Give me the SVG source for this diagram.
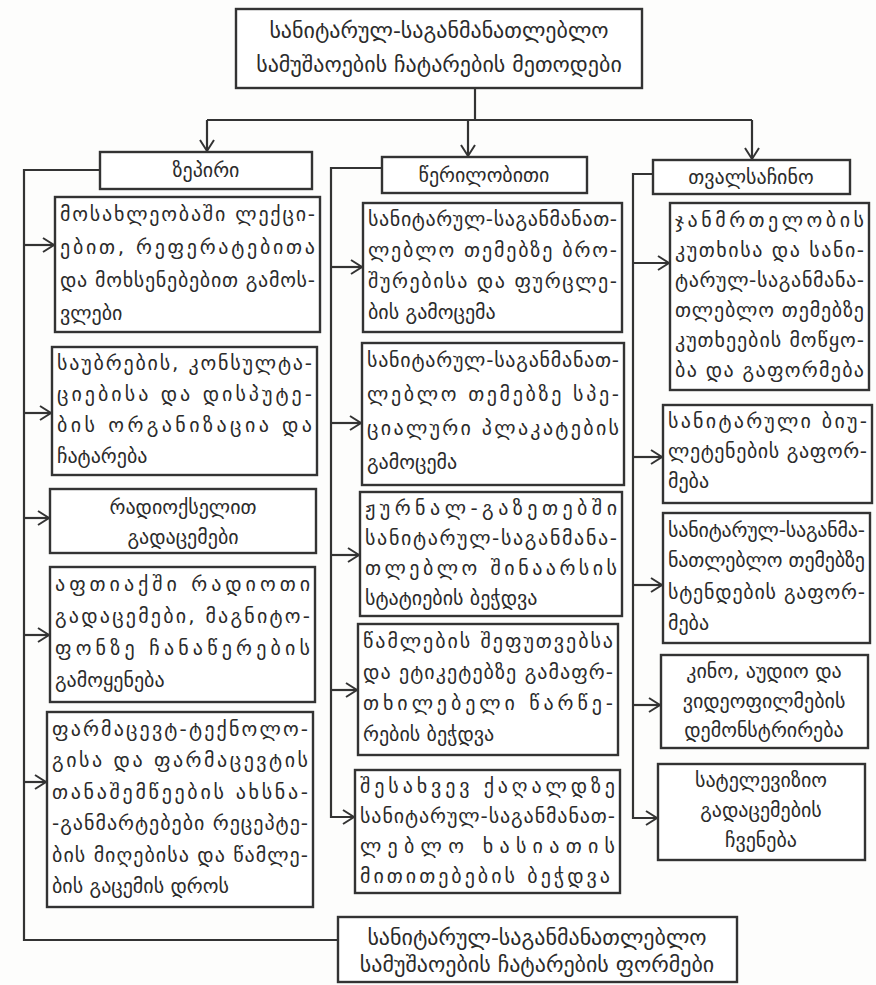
<svg xmlns="http://www.w3.org/2000/svg" width="876" height="985" viewBox="0 0 876 985">
  <defs>
    <style>
      .box { fill: #ffffff; stroke: #333; stroke-width: 2.4; }
      .wire { fill: none; stroke: #333; stroke-width: 2.2; }
      .t { font-family: 'DejaVu Sans', 'Noto Sans', sans-serif; font-size: 20px; fill: #2b2b2b; }
      .big { font-size: 22px; }
      .c { text-anchor: middle; }
    </style>
    <marker id="arr" markerUnits="userSpaceOnUse" markerWidth="14" markerHeight="16" refX="12" refY="8" orient="auto">
      <path d="M1,1 L12,8 L1,15" fill="none" stroke="#333" stroke-width="2"/>
    </marker>
  </defs>
  <rect width="876" height="985" fill="#fdfdfc"/>

  <!-- connectors -->
  <g id="connectors">
    <path class="wire" d="M475,88 V120"/>
    <path class="wire" d="M207,120 H752"/>
    <path class="wire" d="M207,120 V151" marker-end="url(#arr)"/>
    <path class="wire" d="M468,120 V156" marker-end="url(#arr)"/>
    <path class="wire" d="M752,120 V159" marker-end="url(#arr)"/>

    <!-- oral branch -->
    <path class="wire" d="M100,170 H24 V940 H338"/>
    <path class="wire" d="M24,245 H54" marker-end="url(#arr)"/>
    <path class="wire" d="M24,413 H51" marker-end="url(#arr)"/>
    <path class="wire" d="M24,518 H49" marker-end="url(#arr)"/>
    <path class="wire" d="M24,635 H49" marker-end="url(#arr)"/>
    <path class="wire" d="M24,782 H46" marker-end="url(#arr)"/>

    <!-- written branch -->
    <path class="wire" d="M382,168 H331 V817 H354" marker-end="url(#arr)"/>
    <path class="wire" d="M331,267 H362" marker-end="url(#arr)"/>
    <path class="wire" d="M331,423 H361" marker-end="url(#arr)"/>
    <path class="wire" d="M331,555 H359" marker-end="url(#arr)"/>
    <path class="wire" d="M331,690 H357" marker-end="url(#arr)"/>

    <!-- visual branch -->
    <path class="wire" d="M653,174 H633 V818 H657" marker-end="url(#arr)"/>
    <path class="wire" d="M633,263 H669" marker-end="url(#arr)"/>
    <path class="wire" d="M633,457 H662" marker-end="url(#arr)"/>
    <path class="wire" d="M633,585 H662" marker-end="url(#arr)"/>
    <path class="wire" d="M633,705 H660" marker-end="url(#arr)"/>
  </g>

  <!-- title -->
  <g id="methods">
    <rect class="box" x="236" y="9" width="406" height="79"/>
    <text class="t big c" x="439" y="38">სანიტარულ-საგანმანათლებლო</text>
    <text class="t big c" x="439" y="72">სამუშაოების ჩატარების მეთოდები</text>
  </g>

  <!-- oral column -->
  <g id="oral">
    <rect class="box" x="100" y="152" width="212" height="37"/>
    <text class="t c" x="206" y="177">ზეპირი</text>
  </g>
  <g id="oral-1">
    <rect class="box" x="55" y="197" width="265" height="135"/>
    <text class="t" x="60" y="221" textLength="255" lengthAdjust="spacing">მოსახლეობაში ლექცი-</text>
    <text class="t" x="60" y="254" textLength="255" lengthAdjust="spacing">ებით, რეფერატებითა</text>
    <text class="t" x="60" y="287" textLength="255" lengthAdjust="spacing">და მოხსენებებით გამოს-</text>
    <text class="t" x="60" y="320">ვლები</text>
  </g>
  <g id="oral-2">
    <rect class="box" x="52" y="347" width="265" height="128"/>
    <text class="t" x="57" y="370" textLength="255" lengthAdjust="spacing">საუბრების, კონსულტა-</text>
    <text class="t" x="57" y="401" textLength="255" lengthAdjust="spacing">ციებისა და დისპუტე-</text>
    <text class="t" x="57" y="432" textLength="255" lengthAdjust="spacing">ბის ორგანიზაცია და</text>
    <text class="t" x="57" y="463">ჩატარება</text>
  </g>
  <g id="oral-3">
    <rect class="box" x="50" y="489" width="266" height="64"/>
    <text class="t c" x="183" y="514">რადიოქსელით</text>
    <text class="t c" x="183" y="544">გადაცემები</text>
  </g>
  <g id="oral-4">
    <rect class="box" x="50" y="567" width="265" height="135"/>
    <text class="t" x="55" y="591" textLength="255" lengthAdjust="spacing">აფთიაქში რადიოთი</text>
    <text class="t" x="55" y="623" textLength="255" lengthAdjust="spacing">გადაცემები, მაგნიტო-</text>
    <text class="t" x="55" y="655" textLength="255" lengthAdjust="spacing">ფონზე ჩანაწერების</text>
    <text class="t" x="55" y="687">გამოყენება</text>
  </g>
  <g id="oral-5">
    <rect class="box" x="47" y="712" width="266" height="195"/>
    <text class="t" x="52" y="736" textLength="256" lengthAdjust="spacing">ფარმაცევტ-ტექნოლო-</text>
    <text class="t" x="52" y="767" textLength="256" lengthAdjust="spacing">გისა და ფარმაცევტის</text>
    <text class="t" x="52" y="799" textLength="256" lengthAdjust="spacing">თანაშემწეების ახსნა-</text>
    <text class="t" x="52" y="830" textLength="256" lengthAdjust="spacing">-განმარტებები რეცეპტე-</text>
    <text class="t" x="52" y="862" textLength="256" lengthAdjust="spacing">ბის მიღებისა და წამლე-</text>
    <text class="t" x="52" y="893">ბის გაცემის დროს</text>
  </g>

  <!-- written column -->
  <g id="written">
    <rect class="box" x="382" y="157" width="205" height="36"/>
    <text class="t c" x="484" y="182">წერილობითი</text>
  </g>
  <g id="written-1">
    <rect class="box" x="363" y="203" width="259" height="129"/>
    <text class="t" x="368" y="226" textLength="249" lengthAdjust="spacing">სანიტარულ-საგანმანათ-</text>
    <text class="t" x="368" y="257" textLength="249" lengthAdjust="spacing">ლებლო თემებზე ბრო-</text>
    <text class="t" x="368" y="288" textLength="249" lengthAdjust="spacing">შურებისა და ფურცლე-</text>
    <text class="t" x="368" y="319">ბის გამოცემა</text>
  </g>
  <g id="written-2">
    <rect class="box" x="362" y="343" width="262" height="142"/>
    <text class="t" x="367" y="367" textLength="252" lengthAdjust="spacing">სანიტარულ-საგანმანათ-</text>
    <text class="t" x="367" y="401" textLength="252" lengthAdjust="spacing">ლებლო თემებზე სპე-</text>
    <text class="t" x="367" y="435" textLength="252" lengthAdjust="spacing">ციალური პლაკატების</text>
    <text class="t" x="367" y="469">გამოცემა</text>
  </g>
  <g id="written-3">
    <rect class="box" x="360" y="492" width="262" height="124"/>
    <text class="t" x="365" y="515" textLength="252" lengthAdjust="spacing">ჟურნალ-გაზეთებში</text>
    <text class="t" x="365" y="545" textLength="252" lengthAdjust="spacing">სანიტარულ-საგანმანა-</text>
    <text class="t" x="365" y="575" textLength="252" lengthAdjust="spacing">თლებლო შინაარსის</text>
    <text class="t" x="365" y="605">სტატიების ბეჭდვა</text>
  </g>
  <g id="written-4">
    <rect class="box" x="358" y="624" width="260" height="131"/>
    <text class="t" x="363" y="648" textLength="250" lengthAdjust="spacing">წამლების შეფუთვებსა</text>
    <text class="t" x="363" y="679" textLength="250" lengthAdjust="spacing">და ეტიკეტებზე გამაფრ-</text>
    <text class="t" x="363" y="710" textLength="250" lengthAdjust="spacing">თხილებელი წარწე-</text>
    <text class="t" x="363" y="741">რების ბეჭდვა</text>
  </g>
  <g id="written-5">
    <rect class="box" x="355" y="770" width="265" height="123"/>
    <text class="t" x="360" y="793" textLength="255" lengthAdjust="spacing">შესახვევ ქაღალდზე</text>
    <text class="t" x="360" y="823" textLength="255" lengthAdjust="spacing">სანიტარულ-საგანმანათ-</text>
    <text class="t" x="360" y="853" textLength="255" lengthAdjust="spacing">ლებლო ხასიათის</text>
    <text class="t" x="360" y="883" textLength="250" lengthAdjust="spacing">მითითებების ბეჭდვა</text>
  </g>

  <!-- visual column -->
  <g id="visual">
    <rect class="box" x="653" y="160" width="197" height="34"/>
    <text class="t c" x="751" y="184">თვალსაჩინო</text>
  </g>
  <g id="visual-1">
    <rect class="box" x="670" y="203" width="199" height="187"/>
    <text class="t" x="675" y="227" textLength="189" lengthAdjust="spacing">ჯანმრთელობის</text>
    <text class="t" x="675" y="257" textLength="189" lengthAdjust="spacing">კუთხისა და სანი-</text>
    <text class="t" x="675" y="287" textLength="189" lengthAdjust="spacing">ტარულ-საგანმანა-</text>
    <text class="t" x="675" y="317" textLength="189" lengthAdjust="spacing">თლებლო თემებზე</text>
    <text class="t" x="675" y="347" textLength="189" lengthAdjust="spacing">კუთხეების მოწყო-</text>
    <text class="t" x="675" y="377" textLength="189" lengthAdjust="spacing">ბა და გაფორმება</text>
  </g>
  <g id="visual-2">
    <rect class="box" x="663" y="405" width="209" height="98"/>
    <text class="t" x="668" y="428" textLength="199" lengthAdjust="spacing">სანიტარული ბიუ-</text>
    <text class="t" x="668" y="458" textLength="199" lengthAdjust="spacing">ლეტენების გაფორ-</text>
    <text class="t" x="668" y="488">მება</text>
  </g>
  <g id="visual-3">
    <rect class="box" x="663" y="513" width="207" height="130"/>
    <text class="t" x="668" y="537" textLength="197" lengthAdjust="spacing">სანიტარულ-საგანმა-</text>
    <text class="t" x="668" y="567" textLength="197" lengthAdjust="spacing">ნათლებლო თემებზე</text>
    <text class="t" x="668" y="599" textLength="197" lengthAdjust="spacing">სტენდების გაფორ-</text>
    <text class="t" x="668" y="630">მება</text>
  </g>
  <g id="visual-4">
    <rect class="box" x="661" y="655" width="207" height="93"/>
    <text class="t c" x="764" y="678">კინო, აუდიო და</text>
    <text class="t c" x="764" y="708">ვიდეოფილმების</text>
    <text class="t c" x="764" y="737">დემონსტრირება</text>
  </g>
  <g id="visual-5">
    <rect class="box" x="658" y="764" width="207" height="96"/>
    <text class="t c" x="761" y="787">სატელევიზიო</text>
    <text class="t c" x="761" y="817">გადაცემების</text>
    <text class="t c" x="761" y="847">ჩვენება</text>
  </g>

  <!-- forms -->
  <g id="forms">
    <rect class="box" x="338" y="917" width="399" height="65"/>
    <text class="t big c" x="537" y="945">სანიტარულ-საგანმანათლებლო</text>
    <text class="t big c" x="537" y="972">სამუშაოების ჩატარების ფორმები</text>
  </g>
</svg>
